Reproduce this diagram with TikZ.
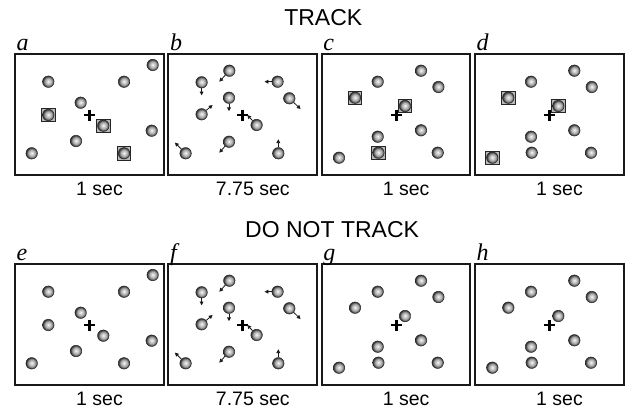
\documentclass[tikz,border=0pt]{standalone}
\usepackage{fontspec}
\setmainfont{Liberation Sans}
\newfontfamily\letterfont{Liberation Serif}
\usetikzlibrary{arrows.meta,calc}

% grey sphere with a bright centre
\pgfdeclareradialshading{sphere}{\pgfpoint{0bp}{1.5bp}}{%
  color(0bp)=(white); color(4bp)=(gray!25); color(15bp)=(gray!70);
  color(22bp)=(black!70); color(25bp)=(black!85); color(50bp)=(black!85)}

\tikzset{
  ball/.style={circle, minimum size=11.5pt, inner sep=0pt, shade, shading=sphere,
    draw=black!85, line width=0.5pt},
  target/.style={rectangle, minimum size=13.5pt, inner sep=0pt, fill=gray!55,
    draw=black!85, line width=0.6pt},
  panelframe/.style={rectangle, draw=black!90, line width=2pt, inner sep=0pt,
    minimum width=148.5pt, minimum height=121pt},
  fixcross/.style={line width=2.8pt, black},
  mvarrow/.style={line width=0.8pt, black!90, -{Triangle[length=3.8pt,width=3.8pt]}},
  panellabel/.style={anchor=base west, inner sep=0pt,
    font=\letterfont\itshape\fontsize{24}{24}\selectfont},
  caption/.style={inner sep=0pt, font=\fontsize{19.5}{21}\selectfont},
  heading/.style={inner sep=0pt, font=\fontsize{23}{25}\selectfont},
}

% frame, fixation cross, letter and duration of one panel
\newcommand\drawpanel[5]{%
  \begin{scope}[shift={(#2,#3)}]
    \node[panelframe] (#1-box) at (74.25,60.5) {};
    \draw[fixcross] (69,61) -- (80,61);
    \draw[fixcross] (74.5,55.5) -- (74.5,66.5);
    \node[panellabel] (#1-lab) at (1.5,-4) {#4};
    \node[caption] (#1-cap) at (84.5,135) {#5};
  \end{scope}}

% ball positions of one panel
\newcommand\placeballs[4]{%
  \begin{scope}[shift={(#2,#3)}]
    \foreach \x/\y [count=\i] in #4 { \coordinate (#1-c\i) at (\x,\y); }
  \end{scope}}

\newcommand\markballs[2]{%
  \foreach \i in {#2} { \node[target] (#1-t\i) at (#1-c\i) {}; }}

\newcommand\drawballs[1]{%
  \foreach \i in {1,...,10} { \node[ball] (#1-\i) at (#1-c\i) {}; }}

\newcommand\drawmotion[1]{%
  \foreach \i/\dx/\dy in {1/-10/11, 2/0/13, 3/-13/0, 4/11.3/10.7, 5/0/13.5,
      6/11/-9.3, 7/-9.3/-10, 8/-9.7/11, 9/-10.7/-10.7, 10/0/-14} {
    \coordinate (#1-m\i) at ($(#1-\i)+(\dx,\dy)$);
    \draw[mvarrow] (#1-\i) -- (#1-m\i);
  }}

\def\startcfg{33.3/27.7, 109/27.7, 137.7/11, 65.7/48.7, 33.3/61, 88.3/71.7,
  136.7/76.7, 61/87, 16.7/99.3, 109/99.3}
\def\movecfg{61/16.7, 33.3/28.3, 109.3/27.7, 121/44.3, 60.7/43.7, 33.3/60.3,
  88.3/71, 60.7/87.7, 17.3/99.3, 110/99.3}
\def\endcfg{99.3/16.7, 56/27.7, 116.7/33, 33.3/43.7, 83.3/52, 99.3/76.3,
  56/82.7, 56.7/98.7, 17.3/103.7, 116/98.7}

\begin{document}
\begin{tikzpicture}[x=1pt, y=-1pt]
  \fill[white] (0,0) rectangle (626,410);
  \useasboundingbox (0,0) rectangle (626,410);

  \node[heading] (track) at (323.3,17.7) {TRACK};
  \node[heading, anchor=west] (notrack) at (245,229.7) {DO NOT TRACK};

  % tracking row
  \drawpanel{a}{15}{54}{a}{1 sec}
  \drawpanel{b}{168.3}{54}{b}{7.75 sec}
  \drawpanel{c}{321.7}{54}{c}{1 sec}
  \drawpanel{d}{475}{54}{d}{1 sec}
  % passive row
  \drawpanel{e}{15}{264}{e}{1 sec}
  \drawpanel{f}{168.3}{264}{f}{7.75 sec}
  \drawpanel{g}{321.7}{264}{g}{1 sec}
  \drawpanel{h}{475}{264}{h}{1 sec}

  \placeballs{a}{15}{54}{\startcfg}
  \placeballs{b}{168.3}{54}{\movecfg}
  \placeballs{c}{321.7}{54}{\endcfg}
  \placeballs{d}{475}{54}{\endcfg}
  \placeballs{e}{15}{264}{\startcfg}
  \placeballs{f}{168.3}{264}{\movecfg}
  \placeballs{g}{321.7}{264}{\endcfg}
  \placeballs{h}{475}{264}{\endcfg}

  % highlighted targets
  \markballs{a}{5,6,10}
  \markballs{c}{4,5,8}
  \markballs{d}{4,5,9}

  \drawballs{a}\drawballs{b}\drawballs{c}\drawballs{d}
  \drawballs{e}\drawballs{f}\drawballs{g}\drawballs{h}

  \drawmotion{b}
  \drawmotion{f}
\end{tikzpicture}
\end{document}
